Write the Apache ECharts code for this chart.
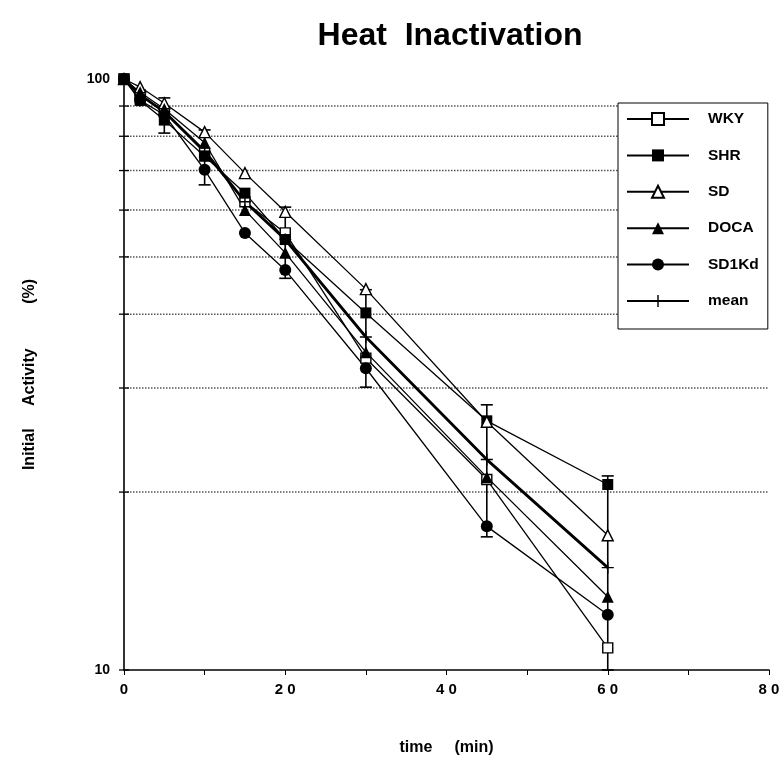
<!DOCTYPE html>
<html>
<head>
<meta charset="utf-8">
<script src="https://cdn.jsdelivr.net/npm/echarts@6/dist/echarts.min.js"></script>
<style>
html,body{margin:0;padding:0;background:#fff;}
#chart{width:781px;height:759px;}
</style>
</head>
<body>
<div id="chart"></div>
<script>
// ---- data ----
const times = [0, 2, 5, 10, 15, 20, 30, 45, 60];
const WKY   = [100, 94, 88, 75, 62, 54.9, 33.7, 21.0, 10.9];
const SHR   = [100, 92, 85.2, 74, 64.1, 53.5, 40.2, 26.4, 20.6];
const SD    = [100, 96.9, 91, 81.3, 69.3, 59.6, 44.1, 26.3, 16.9];
const DOCA  = [100, 95, 89, 78, 60.0, 50.8, 34.5, 21.2, 13.3];
const SD1Kd = [100, 92, 87, 70.2, 54.9, 47.5, 32.4, 17.5, 12.4];
const MEAN  = [100, 94, 88, 75.5, 62, 53.5, 36.6, 22.7, 14.9];

const errTimes = [5, 10, 20, 30, 45, 60];
const errLow   = [81, 66.2, 46, 30.1, 16.8, 10];
const errHigh  = [92.9, 82, 60.7, 44, 28.1, 21.3];

const gridValues = [20, 30, 40, 50, 60, 70, 80, 90];
const yTickValues = [10, 20, 30, 40, 50, 60, 70, 80, 90, 100];
const xTickLabels = {0: '0', 20: '2 0', 40: '4 0', 60: '6 0', 80: '8 0'};

const titleText = 'Heat  Inactivation';
const xName = 'time     (min)';
const yName = 'Initial     Activity          (%)';

// ---- chart ----
const FONT = '"Liberation Sans", Arial, sans-serif';
const chart = echarts.init(document.getElementById('chart'), null, {renderer: 'canvas'});

function pairs(arr) { return times.map((t, i) => [t, arr[i]]); }

const plusPath = 'path://M0,4.4H10V5.6H0ZM4.4,0H5.6V10H4.4Z';

function lineSeries(name, arr, symbol, filled, width, size) {
  return {
    name: name,
    type: 'line',
    data: pairs(arr),
    symbol: symbol,
    symbolSize: size,
    showAllSymbol: true,
    z: 5,
    lineStyle: {color: '#000', width: width},
    itemStyle: {color: filled ? '#000' : '#fff', borderColor: '#000', borderWidth: filled ? 0 : 1.4},
    emphasis: {disabled: true},
    animation: false
  };
}

const option = {
  animation: false,
  backgroundColor: '#fff',
  graphic: [{
    type: 'text',
    style: {x: 450, y: 36, text: titleText, textAlign: 'center', textVerticalAlign: 'middle',
            font: 'bold 32px ' + FONT, fill: '#000'}
  }],
  grid: {left: 124, right: 12, top: 79, bottom: 89, outerBoundsMode: 'none', containLabel: false},
  legend: {
    orient: 'vertical',
    left: 618, top: 103,
    padding: [8, 9, 20, 8],
    itemWidth: 62, itemHeight: 15, itemGap: 20.4,
    backgroundColor: '#fff',
    borderColor: '#000', borderWidth: 1,
    textStyle: {fontFamily: FONT, fontWeight: 'bold', fontSize: 15.5, color: '#000', padding: [0, 0, 0, 14]},
    data: ['WKY', 'SHR', 'SD', 'DOCA', 'SD1Kd', 'mean'],
    selectedMode: false,
    z: 20
  },
  xAxis: {
    type: 'value', min: 0, max: 80, interval: 20,
    name: xName, nameLocation: 'middle', nameGap: 70,
    nameTextStyle: {fontFamily: FONT, fontWeight: 'bold', fontSize: 16, color: '#000'},
    axisLine: {lineStyle: {color: '#000', width: 1.6}},
    axisTick: {show: true, length: 5, lineStyle: {color: '#000'}},
    minorTick: {show: true, splitNumber: 2, length: 5, lineStyle: {color: '#000'}},
    splitLine: {show: false},
    axisLabel: {fontFamily: FONT, fontWeight: 'bold', fontSize: 15, color: '#000', margin: 12,
                formatter: v => xTickLabels[v] !== undefined ? xTickLabels[v] : ''}
  },
  yAxis: {
    type: 'log', logBase: 10, min: 10, max: 100,
    name: yName, nameLocation: 'middle', nameGap: 86, nameRotate: 90,
    nameTextStyle: {fontFamily: FONT, fontWeight: 'bold', fontSize: 16, color: '#000'},
    axisLine: {lineStyle: {color: '#000', width: 1.6}},
    axisTick: {show: false},
    splitLine: {show: false},
    axisLabel: {fontFamily: FONT, fontWeight: 'bold', fontSize: 14, color: '#000', margin: 14}
  },
  series: [
    {
      type: 'custom', name: 'grid', silent: true, z: 1,
      data: gridValues.map(v => [0, v]),
      renderItem: function (params, api) {
        const v = api.value(1);
        const p0 = api.coord([0, v]);
        const p1 = api.coord([80, v]);
        return {type: 'line', shape: {x1: p0[0], y1: p0[1], x2: p1[0], y2: p1[1]},
                style: {stroke: '#555', lineWidth: 1.5, lineDash: [1.5, 1.5]}};
      }
    },
    {
      type: 'custom', name: 'yticks', silent: true, z: 3,
      data: yTickValues.map(v => [0, v]),
      renderItem: function (params, api) {
        const p = api.coord([0, api.value(1)]);
        return {type: 'line', shape: {x1: p[0] - 5, y1: p[1], x2: p[0] + 5, y2: p[1]},
                style: {stroke: '#000', lineWidth: 1.3}};
      }
    },
    {
      type: 'custom', name: 'errors', silent: true, z: 4,
      data: errTimes.map((t, i) => [t, errLow[i], errHigh[i]]),
      renderItem: function (params, api) {
        const t = api.value(0);
        const lo = api.coord([t, api.value(1)]);
        const hi = api.coord([t, api.value(2)]);
        const w = 6;
        return {type: 'group', children: [
          {type: 'line', shape: {x1: lo[0], y1: lo[1], x2: hi[0], y2: hi[1]}, style: {stroke: '#000', lineWidth: 1.6}},
          {type: 'line', shape: {x1: hi[0] - w, y1: hi[1], x2: hi[0] + w, y2: hi[1]}, style: {stroke: '#000', lineWidth: 1.6}},
          {type: 'line', shape: {x1: lo[0] - w, y1: lo[1], x2: lo[0] + w, y2: lo[1]}, style: {stroke: '#000', lineWidth: 1.6}}
        ]};
      }
    },
    lineSeries('WKY', WKY, 'rect', false, 1.3, 10),
    lineSeries('SHR', SHR, 'rect', true, 1.3, 11),
    lineSeries('SD', SD, 'triangle', false, 1.3, 11),
    lineSeries('DOCA', DOCA, 'triangle', true, 1.3, 12),
    lineSeries('SD1Kd', SD1Kd, 'circle', true, 1.3, 12),
    lineSeries('mean', MEAN, plusPath, true, 2.8, 12)
  ]
};
chart.setOption(option);
</script>
</body>
</html>
